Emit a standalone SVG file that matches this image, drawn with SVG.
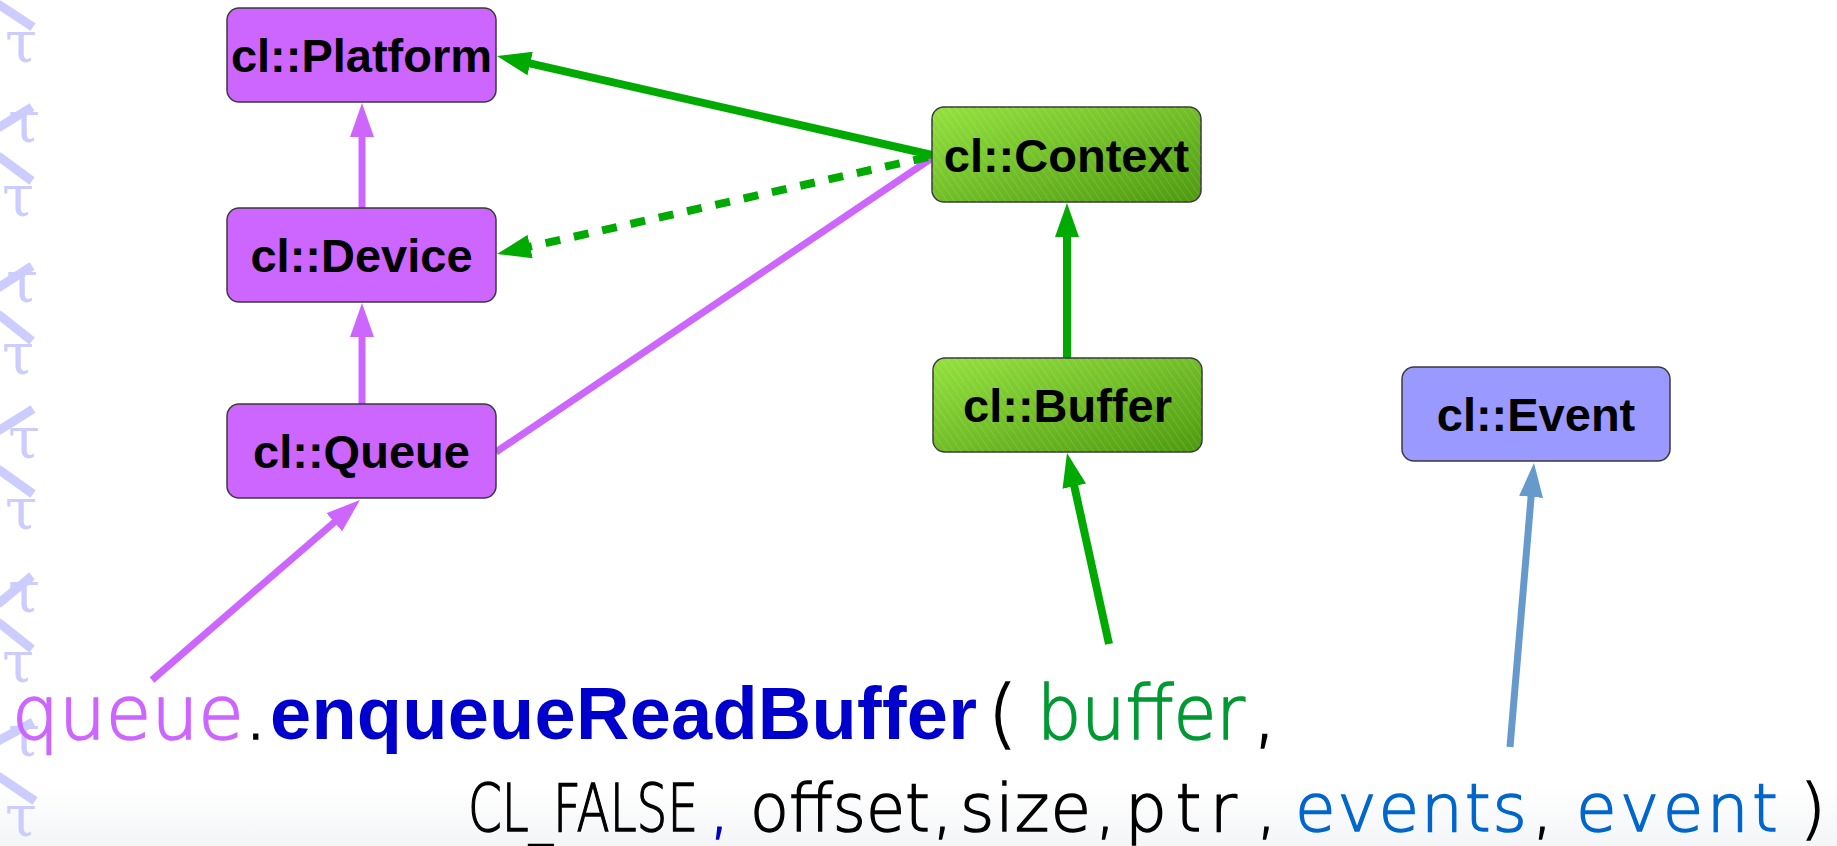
<svg xmlns="http://www.w3.org/2000/svg" width="1837" height="846" viewBox="0 0 1837 846">
  <defs>
    <style>
      .node rect { stroke: #3a3a3a; stroke-width: 1.5; }
      .purple rect { fill: #cc66ff; }
      .green rect.base { fill: url(#greenFill); }
      .green rect.hatch { fill: url(#hatch); stroke: none; }
      .blue rect { fill: #9999ff; }
      .label { font-family: "Liberation Sans", Arial, sans-serif; font-weight: bold; font-size: 47px; fill: #000; text-anchor: middle; }
      .edge { fill: none; stroke-width: 7; }
      .e-purple { stroke: #cc66ff; }
      .e-green { stroke: #00aa00; stroke-width: 8; }
      .e-blue { stroke: #6699cc; }
      .dashed { stroke-dasharray: 15 14; }
      .code { font-family: "DejaVu Sans", "Liberation Sans", sans-serif; font-weight: 200; font-size: 74px; stroke-width: 1.6; }
      .code.bold { font-family: "Liberation Sans", Arial, sans-serif; font-weight: bold; stroke: none; }
      .code2 { font-family: "DejaVu Sans", "Liberation Sans", sans-serif; font-weight: 200; font-size: 66px; stroke-width: 1.4; }
      .ink { fill: #000; stroke: #000; }
      .c-queue { fill: #cc66ff; stroke: #cc66ff; }
      .c-buffer { fill: #009933; stroke: #009933; }
      .c-event { fill: #0066cc; stroke: #0066cc; }
      .c-call { fill: #0000cc; stroke: #0000cc; }
      .deco line { stroke: #ccccff; stroke-width: 9; }
      .deco text { font-family: "DejaVu Serif", "Liberation Serif", serif; font-size: 58px; fill: #ccccff; }
    </style>
    <linearGradient id="greenFill" x1="0" y1="0" x2="1" y2="1">
      <stop offset="0" stop-color="#94e23f"/>
      <stop offset="1" stop-color="#4e9a10"/>
    </linearGradient>
    <linearGradient id="footer" x1="0" y1="0" x2="0" y2="1">
      <stop offset="0" stop-color="#ffffff"/>
      <stop offset="1" stop-color="#f3f5f7"/>
    </linearGradient>
    <pattern id="hatch" width="6" height="6" patternUnits="userSpaceOnUse" patternTransform="rotate(-35)">
      <line x1="0" y1="0" x2="0" y2="6" stroke="#ffffff" stroke-opacity="0.12" stroke-width="2"/>
    </pattern>
    <marker id="arrPurple" viewBox="0 0 34 24" refX="6" refY="12" markerWidth="34" markerHeight="24" markerUnits="userSpaceOnUse" orient="auto">
      <path d="M0,0 L34,12 L0,24 z" fill="#cc66ff"/>
    </marker>
    <marker id="arrGreen" viewBox="0 0 34 24" refX="6" refY="12" markerWidth="34" markerHeight="24" markerUnits="userSpaceOnUse" orient="auto">
      <path d="M0,0 L34,12 L0,24 z" fill="#00aa00"/>
    </marker>
    <marker id="arrBlue" viewBox="0 0 34 24" refX="6" refY="12" markerWidth="34" markerHeight="24" markerUnits="userSpaceOnUse" orient="auto">
      <path d="M0,0 L34,12 L0,24 z" fill="#6699cc"/>
    </marker>
  </defs>

  <rect x="0" y="0" width="1837" height="846" fill="#ffffff"/>
  <rect x="0" y="785" width="1837" height="61" fill="url(#footer)"/>

  <!-- left border ornament -->
  <g id="ornament" class="deco">
    <line x1="-2" y1="4" x2="33" y2="27"/>
    <text x="5" y="62">τ</text>
    <line x1="-2" y1="128" x2="32" y2="107"/>
    <text x="8" y="142">τ</text>
    <line x1="-2" y1="156" x2="32" y2="181"/>
    <text x="2" y="216">τ</text>
    <line x1="-2" y1="288" x2="32" y2="266"/>
    <text x="6" y="302">τ</text>
    <line x1="-2" y1="314" x2="32" y2="341"/>
    <text x="2" y="374">τ</text>
    <line x1="-2" y1="431" x2="33" y2="409"/>
    <text x="8" y="458">τ</text>
    <line x1="-2" y1="469" x2="33" y2="494"/>
    <text x="5" y="529">τ</text>
    <line x1="-2" y1="604" x2="32" y2="576"/>
    <text x="8" y="612">τ</text>
    <line x1="-2" y1="622" x2="32" y2="649"/>
    <text x="2" y="682">τ</text>
    <line x1="-2" y1="741" x2="33" y2="722"/>
    <text x="8" y="756">τ</text>
    <line x1="-2" y1="776" x2="35" y2="801"/>
    <text x="5" y="836">τ</text>
  </g>

  <!-- connectors -->
  <g id="connectors">
    <line class="edge e-purple" x1="362" y1="208" x2="362" y2="131" marker-end="url(#arrPurple)"/>
    <line class="edge e-purple" x1="362" y1="404" x2="362" y2="331" marker-end="url(#arrPurple)"/>
    <line class="edge e-purple" x1="152" y1="680" x2="338.8" y2="518.3" marker-end="url(#arrPurple)"/>
    <line class="edge e-purple" x1="496" y1="452" x2="932" y2="158"/>
    <line class="edge e-green" x1="932" y1="155" x2="524.3" y2="62.2" marker-end="url(#arrGreen)"/>
    <line class="edge e-green dashed" x1="928" y1="157" x2="524.3" y2="247.9" marker-end="url(#arrGreen)"/>
    <line class="edge e-green" x1="1067" y1="358" x2="1067" y2="231" marker-end="url(#arrGreen)"/>
    <line class="edge e-green" x1="1109" y1="644" x2="1073" y2="480.3" marker-end="url(#arrGreen)"/>
    <line class="edge e-blue" x1="1510" y1="747" x2="1531.6" y2="490.9" marker-end="url(#arrBlue)"/>
  </g>

  <!-- nodes -->
  <g id="platform" class="node purple">
    <rect x="227" y="8" width="269" height="94" rx="12"/>
    <text class="label" x="361.5" y="72">cl::Platform</text>
  </g>
  <g id="device" class="node purple">
    <rect x="227" y="208" width="269" height="94" rx="12"/>
    <text class="label" x="361.5" y="272">cl::Device</text>
  </g>
  <g id="queue" class="node purple">
    <rect x="227" y="404" width="269" height="94" rx="12"/>
    <text class="label" x="361.5" y="468">cl::Queue</text>
  </g>
  <g id="context" class="node green">
    <rect class="base" x="932" y="107" width="269" height="95" rx="12"/>
    <rect class="hatch" x="932" y="107" width="269" height="95" rx="12"/>
    <text class="label" x="1066.5" y="172">cl::Context</text>
  </g>
  <g id="buffer" class="node green">
    <rect class="base" x="933" y="358" width="269" height="94" rx="12"/>
    <rect class="hatch" x="933" y="358" width="269" height="94" rx="12"/>
    <text class="label" x="1067.5" y="422">cl::Buffer</text>
  </g>
  <g id="event" class="node blue">
    <rect x="1402" y="367" width="268" height="94" rx="12"/>
    <text class="label" x="1536" y="431">cl::Event</text>
  </g>

  <!-- call expression -->
  <g id="call">
    <text class="code c-queue" x="12" y="739">queue</text>
    <text class="code ink" x="244" y="739">.</text>
    <text class="code bold" x="270" y="739" fill="#0000cc" textLength="707" lengthAdjust="spacing">enqueueReadBuffer</text>
    <text class="code ink" x="988" y="739">(</text>
    <text class="code c-buffer" x="1037" y="739" textLength="208" lengthAdjust="spacingAndGlyphs">buffer</text>
    <text class="code ink" x="1253" y="739">,</text>

    <text class="code2 ink" x="468" y="831" font-size="53" textLength="230" lengthAdjust="spacingAndGlyphs">CL_FALSE</text>
    <text class="code2 c-call" x="709" y="831">,</text>
    <text class="code2 ink" x="750" y="831" textLength="180" lengthAdjust="spacingAndGlyphs">offset</text>
    <text class="code2 ink" x="932" y="831">,</text>
    <text class="code2 ink" x="960" y="831" textLength="131" lengthAdjust="spacing">size</text>
    <text class="code2 ink" x="1095" y="831">,</text>
    <text class="code2 ink" x="1125" y="831" textLength="112" lengthAdjust="spacing">ptr</text>
    <text class="code2 ink" x="1256" y="831">,</text>
    <text class="code2 c-event" x="1295" y="831" textLength="232" lengthAdjust="spacing">events</text>
    <text class="code2 ink" x="1532" y="831">,</text>
    <text class="code2 c-event" x="1576" y="831" textLength="202" lengthAdjust="spacing">event</text>
    <text class="code2 ink" x="1800" y="831">)</text>
  </g>
</svg>
